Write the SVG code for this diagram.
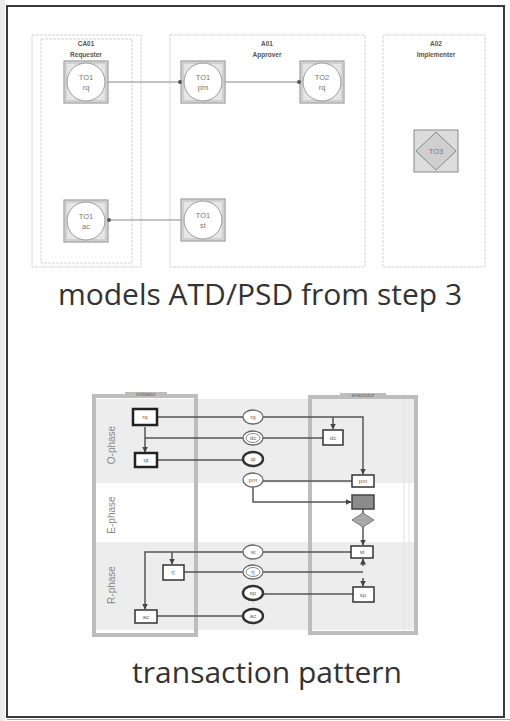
<svg xmlns="http://www.w3.org/2000/svg" width="510" height="721" viewBox="0 0 510 721">
<style>
.cap{font-family:"Open Sans","Liberation Sans",sans-serif;font-size:30px;fill:#333;text-anchor:middle}
.col{fill:none;stroke:#d4d4d4;stroke-width:1;stroke-dasharray:3 1}
.hd{font-family:"Liberation Sans",Arial,sans-serif;font-size:6.5px;font-weight:bold;fill:#555;text-anchor:middle}
.nb{fill:#e6e6e6;stroke:#8a8a8a;stroke-width:1}
.ni{fill:none;stroke:#b0b0b0;stroke-width:0.8}
.nc{fill:#fff;stroke:#9a9a9a;stroke-width:1}
.nt{font-family:"Liberation Sans",Arial,sans-serif;font-size:7.5px;fill:#777;text-anchor:middle}
.ln{fill:none;stroke:#8a8a8a;stroke-width:1}
.pc{fill:none;stroke:#bdbdbd;stroke-width:4}
.bx{fill:#fff;stroke:#333;stroke-width:1.5}
.bxb{fill:#fff;stroke:#222;stroke-width:2.5}
.el{fill:#fff;stroke:#666;stroke-width:1.3}
.elb{fill:#fff;stroke:#333;stroke-width:2.4}
.st{font-family:"Liberation Sans",Arial,sans-serif;font-size:6px;fill:#666;text-anchor:middle}
.ph{font-family:"Liberation Sans",Arial,sans-serif;font-size:10px;fill:#888;text-anchor:middle}
.tl{fill:none;stroke:#555;stroke-width:1.5}
</style>
<defs>
<marker id="ah" viewBox="0 0 6 6" refX="5.5" refY="3" markerWidth="4" markerHeight="4" orient="auto"><path d="M0,0 L6,3 L0,6 z" fill="#444"/></marker>
<marker id="dt" viewBox="0 0 4 4" refX="2" refY="2" markerWidth="4" markerHeight="4"><circle cx="2" cy="2" r="2" fill="#555"/></marker>
</defs>
<rect x="0" y="0" width="510" height="721" fill="#fff"/>
<rect x="0" y="0" width="5" height="721" fill="#ececec"/>
<rect x="7" y="6" width="497" height="711" fill="#fff" stroke="#3a3a3a" stroke-width="2"/>
<line x1="7" y1="719.5" x2="510" y2="719.5" stroke="#aaa" stroke-width="1"/>

<g id="top-diagram">
<g id="col-ca01">
<rect class="col" x="32" y="35" width="109" height="232"/>
<rect class="col" x="41" y="39" width="91" height="224" stroke="#ececec"/>
<text class="hd" x="86" y="46">CA01</text>
<text class="hd" x="86" y="57">Requester</text>
</g>
<g id="col-a01">
<rect class="col" x="170" y="35" width="195" height="232"/>
<text class="hd" x="267" y="46">A01</text>
<text class="hd" x="267" y="57">Approver</text>
</g>
<g id="col-a02">
<rect class="col" x="383" y="35" width="102" height="232"/>
<text class="hd" x="436" y="46">A02</text>
<text class="hd" x="436" y="57">Implementer</text>
</g>
<g id="n-to1-rq">
<rect class="nb" x="64" y="61" width="44" height="42"/><rect class="ni" x="66" y="63" width="40" height="38"/>
<circle class="nc" cx="86" cy="82" r="19"/>
<text class="nt" x="86" y="80">TO1</text><text class="nt" x="86" y="90">rq</text>
</g>
<g id="n-to1-pm">
<rect class="nb" x="181" y="61" width="44" height="42"/><rect class="ni" x="183" y="63" width="40" height="38"/>
<circle class="nc" cx="203" cy="82" r="19"/>
<text class="nt" x="203" y="80">TO1</text><text class="nt" x="203" y="90">pm</text>
</g>
<g id="n-to2-rq">
<rect class="nb" x="300" y="61" width="44" height="42"/><rect class="ni" x="302" y="63" width="40" height="38"/>
<circle class="nc" cx="322" cy="82" r="19"/>
<text class="nt" x="322" y="80">TO2</text><text class="nt" x="322" y="90">rq</text>
</g>
<g id="n-to1-ac">
<rect class="nb" x="64" y="200" width="44" height="42"/><rect class="ni" x="66" y="202" width="40" height="38"/>
<circle class="nc" cx="86" cy="221" r="19"/>
<text class="nt" x="86" y="219">TO1</text><text class="nt" x="86" y="229">ac</text>
</g>
<g id="n-to1-st">
<rect class="nb" x="181" y="199" width="44" height="42"/><rect class="ni" x="183" y="201" width="40" height="38"/>
<circle class="nc" cx="203" cy="220" r="19"/>
<text class="nt" x="203" y="218">TO1</text><text class="nt" x="203" y="228">st</text>
</g>
<g id="n-to3">
<rect x="414" y="130" width="44" height="42" fill="#dcdcdc" stroke="#8a8a8a"/>
<polygon points="436,132 456,151 436,170 416,151" fill="#cfcfcf" stroke="#888" stroke-width="1"/>
<text class="nt" x="436" y="154" fill="#555">TO3</text>
</g>
<g id="top-connectors">
<line class="ln" x1="108" y1="82" x2="180" y2="82" marker-end="url(#dt)"/>
<line class="ln" x1="225" y1="82" x2="299" y2="82" marker-end="url(#dt)"/>
<line class="ln" x1="181" y1="220" x2="109" y2="220" marker-end="url(#dt)"/>
</g>
</g>

<text class="cap" x="260" y="305">models ATD/PSD from step 3</text>

<g id="transaction-pattern">
<g id="bands">
<rect x="96" y="399" width="318" height="84" fill="#ededed"/>
<rect x="96" y="542" width="318" height="88" fill="#ededed"/>
<line x1="404" y1="399" x2="404" y2="630" stroke="#e0e0e0"/>
<line x1="409" y1="399" x2="409" y2="630" stroke="#e4e4e4"/>
</g>
<g id="initiator">
<rect class="pc" x="94" y="396" width="102" height="239"/>
<rect x="125" y="392" width="42" height="5" fill="#bdbdbd"/>
<text class="st" x="146" y="396" fill="#555">initiator</text>
</g>
<g id="executor">
<rect class="pc" x="310" y="397" width="106" height="236"/>
<rect x="340" y="393" width="46" height="5" fill="#bdbdbd"/>
<text class="st" x="363" y="397" fill="#555">executor</text>
</g>
<text class="ph" transform="translate(115,445) rotate(-90)">O-phase</text>
<text class="ph" transform="translate(115,515) rotate(-90)">E-phase</text>
<text class="ph" transform="translate(115,585) rotate(-90)">R-phase</text>

<g id="tp-connectors">
<polyline class="tl" points="157,417 243,417"/>
<polyline class="tl" points="263,417 363,417 363,474" marker-end="url(#ah)"/>
<polyline class="tl" points="333,417 333,429" marker-end="url(#ah)"/>
<polyline class="tl" points="323,438 263,438"/>
<polyline class="tl" points="243,438 145,438"/>
<polyline class="tl" points="145,427 145,452" marker-end="url(#ah)"/>
<polyline class="tl" points="157,460 243,460"/>
<polyline class="tl" points="352,481 263,481"/>
<polyline class="tl" points="253,487 253,502 351,502" marker-end="url(#ah)"/>
<polyline class="tl" points="363,509 363,513"/>
<polyline class="tl" points="363,527 363,545" marker-end="url(#ah)"/>
<polyline class="tl" points="351,552 263,552"/>
<polyline class="tl" points="243,552 145,552 145,609" marker-end="url(#ah)"/>
<polyline class="tl" points="172,552 172,564" marker-end="url(#ah)"/>
<polyline class="tl" points="184,572 243,572"/>
<polyline class="tl" points="263,572 363,572"/>
<polyline class="tl" points="363,566 363,559" marker-end="url(#ah)"/>
<polyline class="tl" points="363,578 363,586" marker-end="url(#ah)"/>
<polyline class="tl" points="353,594 263,594"/>
<polyline class="tl" points="157,616 243,616"/>
</g>

<g id="i-rq"><rect class="bxb" x="133" y="409" width="24" height="16"/><text class="st" x="145" y="419">rq</text></g>
<g id="i-qt"><rect class="bxb" x="135" y="453" width="22" height="14"/><text class="st" x="146" y="462">qt</text></g>
<g id="i-rj"><rect class="bx" x="163" y="565" width="21" height="15"/><text class="st" x="173" y="574">rj</text></g>
<g id="i-ac"><rect class="bx" x="135" y="610" width="22" height="13"/><text class="st" x="146" y="619">ac</text></g>
<g id="e-dc"><rect class="bx" x="323" y="430" width="20" height="15"/><text class="st" x="333" y="440">dc</text></g>
<g id="e-pm"><rect class="bx" x="352" y="475" width="22" height="12"/><text class="st" x="363" y="483">pm</text></g>
<g id="e-ex"><rect x="352" y="495" width="22" height="14" fill="#8c8c8c" stroke="#444" stroke-width="1.5"/></g>
<g id="e-dec"><polygon points="363,513 374,520 363,527 352,520" fill="#a8a8a8" stroke="#777"/></g>
<g id="e-st"><rect class="bx" x="351" y="546" width="22" height="12"/><text class="st" x="362" y="554">st</text></g>
<g id="e-sp"><rect class="bx" x="353" y="587" width="21" height="15"/><text class="st" x="363" y="597">sp</text></g>

<g id="f-rq"><ellipse class="el" cx="253" cy="417" rx="10" ry="7"/><text class="st" x="253" y="419">rq</text></g>
<g id="f-dc"><ellipse class="el" cx="253" cy="438" rx="10" ry="7"/><ellipse fill="none" stroke="#888" cx="253" cy="438" rx="7" ry="4.5"/><text class="st" x="253" y="440">dc</text></g>
<g id="f-qt"><ellipse class="elb" cx="253" cy="459" rx="10" ry="7"/><text class="st" x="253" y="461">qt</text></g>
<g id="f-pm"><ellipse class="el" cx="253" cy="480" rx="10" ry="7"/><text class="st" x="253" y="482">pm</text></g>
<g id="f-st"><ellipse class="el" cx="253" cy="552" rx="10" ry="7"/><text class="st" x="253" y="554">st</text></g>
<g id="f-rj"><ellipse class="el" cx="253" cy="572" rx="10" ry="7"/><ellipse fill="none" stroke="#888" cx="253" cy="572" rx="7" ry="4.5"/><text class="st" x="253" y="574">rj</text></g>
<g id="f-sp"><ellipse class="elb" cx="253" cy="593" rx="10" ry="7"/><text class="st" x="253" y="595">sp</text></g>
<g id="f-ac"><ellipse class="elb" cx="253" cy="616" rx="10" ry="7"/><text class="st" x="253" y="618">ac</text></g>
</g>

<text class="cap" x="267" y="683">transaction pattern</text>
</svg>
